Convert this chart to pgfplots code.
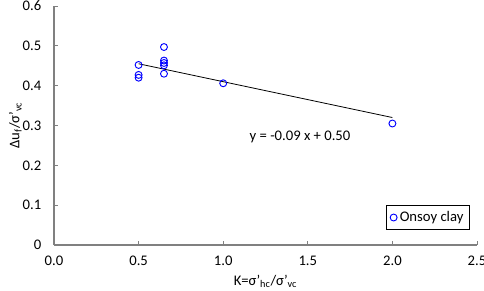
\documentclass[border=0pt]{standalone}
\usepackage{pgfplots}
\pgfplotsset{compat=1.18}
\usepackage{fontspec}
\setmainfont{Carlito}
\definecolor{axgray}{RGB}{128,128,128}
\begin{document}
\begin{tikzpicture}
\path[use as bounding box] (-40.5pt,-34.5pt) rectangle (322.5pt,183.75pt);
\begin{axis}[
  scale only axis,
  width=317.25pt, height=179.25pt,
  xmin=0, xmax=2.5, ymin=0, ymax=0.6,
  axis x line*=bottom, axis y line*=left,
  axis line style={axgray, line width=0.9pt},
  xtick={0,0.5,...,2.5}, ytick={0,0.1,...,0.6},
  tick align=inside,
  tick style={axgray, line width=0.6pt},
  major tick length=3pt,
  x tick label style={/pgf/number format/fixed, /pgf/number format/fixed zerofill, /pgf/number format/precision=1, yshift=-4.5pt},
  y tick label style={xshift=-6pt},
  yticklabels={0,0.1,0.2,0.3,0.4,0.5,0.6},
  /pgf/number format/assume math mode=true,
  tick label style={font=\fontsize{11}{13}\selectfont, text=black},
  label style={font=\fontsize{11}{13}\selectfont},
  xlabel={K=σ'\textsubscript{hc}/σ'\textsubscript{vc}},
  ylabel={Δu\textsubscript{f}/σ'\textsubscript{vc}},
  xlabel style={at={(axis description cs:0.5,-0.153)}, anchor=center},
  ylabel style={at={(axis description cs:-0.0914,0.5)}, anchor=center},
  legend style={at={(0.983,0.063)}, anchor=south east, draw=black, line width=0.5pt,
    font=\fontsize{11}{13}\selectfont, inner sep=2.5pt},
  legend cell align=left,
  clip=false,
]
\addplot[only marks, mark=o, mark size=2.6pt, color=blue, mark options={line width=0.7pt}] coordinates {
(0.5,0.452)(0.5,0.427)(0.5,0.420)
(0.65,0.497)(0.65,0.463)(0.65,0.457)(0.65,0.451)(0.65,0.430)
(1.0,0.406)(2.0,0.305)
};
\addlegendentry{Onsoy clay}
\addplot[black, line width=0.6pt, forget plot] coordinates {(0.5,0.455)(2.0,0.32)};
\node[font=\fontsize{11}{13}\selectfont] at (axis cs:1.454,0.271) {y = -0.09 x + 0.50};
\end{axis}
\end{tikzpicture}
\end{document}
